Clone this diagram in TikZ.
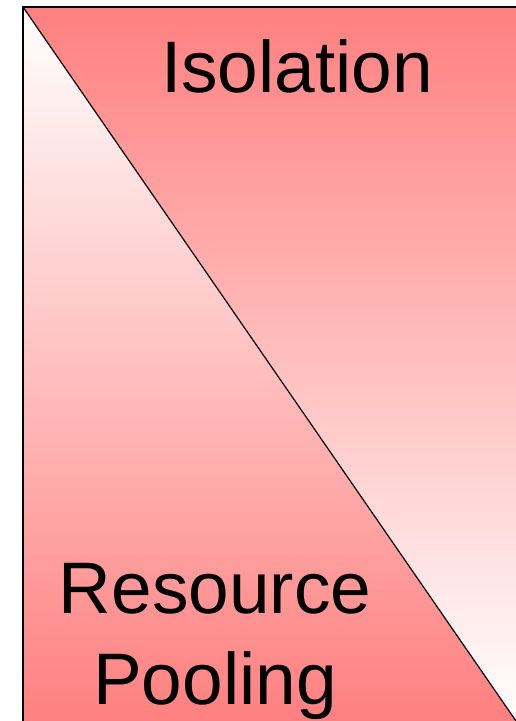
\documentclass[tikz,border=0pt]{standalone}
\usepackage{fontspec}
\setmainfont{Liberation Sans}
\usepackage{tikz}
\usetikzlibrary{positioning}

\definecolor{poolred}{RGB}{255,128,128}

\begin{document}
\begin{tikzpicture}[x=1pt, y=-1pt,
    label text/.style={font=\fontsize{73}{91}\selectfont, align=center, text=black}]
  \useasboundingbox (0,0) rectangle (516,721);
  % Corners of the box
  \coordinate (tl) at (23,7);
  \coordinate (tr) at (516,7);
  \coordinate (bl) at (23,721);
  \coordinate (br) at (516,721);
  % Upper triangle (fades downwards)
  \shade[top color=poolred, bottom color=white] (tl) -- (tr) -- (br) -- cycle;
  % Lower triangle (fades upwards)
  \shade[top color=white, bottom color=poolred] (tl) -- (br) -- (bl) -- cycle;
  % Borders
  \draw[line width=1.4pt] (bl) -- (tl) -- (tr);
  \draw[line width=1.2pt] (tl) -- (br);
  % Labels
  \node[label text, anchor=base] (isolation) at (297,92) {Isolation};
  \node[label text, anchor=base] (pooling) at (215,704) {Resource\\Pooling};
\end{tikzpicture}
\end{document}
